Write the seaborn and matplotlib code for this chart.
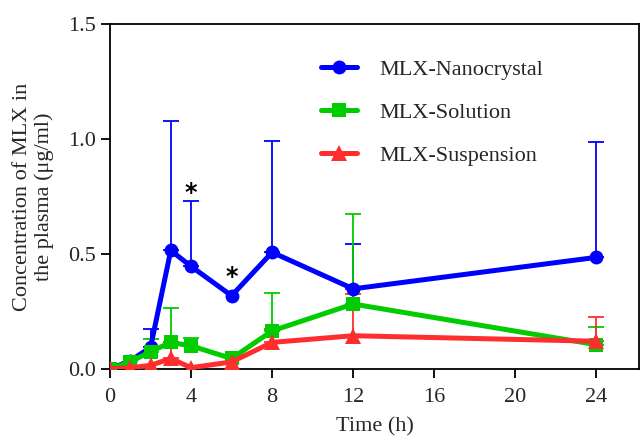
import numpy as np
import pandas as pd
import matplotlib
matplotlib.use("Agg")
import matplotlib.pyplot as plt
import seaborn as sns

# Sampling times (h)
time_h = [0, 1, 2, 3, 4, 6, 8, 12, 24]

# Mean plasma concentration (ug/ml)
nanocrystal = [0.0, 0.035, 0.093, 0.515, 0.446, 0.318, 0.507, 0.348, 0.485]
solution = [0.0, 0.03, 0.075, 0.115, 0.10, 0.045, 0.165, 0.282, 0.105]
suspension = [0.0, 0.005, 0.015, 0.045, 0.005, 0.03, 0.115, 0.144, 0.12]

# Upper standard deviation (NaN = no bar drawn)
nan = np.nan
nanocrystal_sd = [nan, nan, 0.08, 0.565, 0.282, nan, 0.483, 0.196, 0.502]
solution_sd = [nan, nan, 0.055, 0.15, 0.035, nan, 0.165, 0.393, 0.075]
suspension_sd = [nan, nan, nan, 0.07, nan, nan, 0.06, 0.182, 0.105]

series_names = ["MLX-Nanocrystal", "MLX-Solution", "MLX-Suspension"]
colors = ["#0000FF", "#00CC00", "#FF2E2E"]
markers = ["o", "s", "^"]
marker_sizes = [10, 9.5, 11]

# Significance marks: (time, y position)
star_times = [4, 6]
star_y = [0.765, 0.398]

sns.set_style("ticks")
plt.rcParams["font.family"] = ["Liberation Serif", "DejaVu Serif"]

df = pd.DataFrame({
    "time": time_h * 3,
    "conc": nanocrystal + solution + suspension,
    "group": sum([[n] * len(time_h) for n in series_names], []),
})

fig = plt.figure(figsize=(6.42, 4.37), dpi=100)
ax = fig.add_axes([0.1713, 0.156, 0.8240, 0.789])

means = [nanocrystal, solution, suspension]
sds = [nanocrystal_sd, solution_sd, suspension_sd]

# Upper-only error bars
for m, s, c in zip(means, sds, colors):
    lower = np.zeros(len(m))
    upper = np.array(s, dtype=float)
    mask = ~np.isnan(upper)
    ax.errorbar(np.array(time_h)[mask], np.array(m)[mask],
                yerr=[lower[mask], upper[mask]], fmt="none",
                ecolor=c, elinewidth=1.3, capsize=6, capthick=1.3, zorder=2)

sns.lineplot(data=df, x="time", y="conc", hue="group", style="group",
             palette=dict(zip(series_names, colors)),
             markers=dict(zip(series_names, markers)),
             dashes=False, linewidth=3.6, markersize=10,
             markeredgewidth=0, ax=ax, legend=False, zorder=3)

# Adjust marker size per series
for line, ms in zip(ax.get_lines()[-3:], marker_sizes):
    line.set_markersize(ms)

for t, y in zip(star_times, star_y):
    ax.text(t, y, "*", ha="center", va="center", fontsize=17,
            fontweight="bold", family="DejaVu Sans", color="black")

ax.set_xlim(0, 26.1)
ax.set_ylim(0, 1.5)
ax.set_xticks([0, 4, 8, 12, 16, 20, 24])
ax.set_yticks([0.0, 0.5, 1.0, 1.5])
ax.set_yticklabels(["0.0", "0.5", "1.0", "1.5"])

ax.set_xlabel("Time (h)", fontsize=16, labelpad=7.5)
ax.set_ylabel("Concentration of MLX in\nthe plasma (\u03bcg/ml)", fontsize=16,
              linespacing=1.15)
ax.yaxis.set_label_coords(-0.106, 0.5)

ax.tick_params(axis="both", labelsize=16, length=6.5, width=1.3,
               direction="out", color="black")
ax.tick_params(axis="x", pad=7)
for sp in ax.spines.values():
    sp.set_linewidth(1.3)
    sp.set_color("black")

handles = [
    plt.Line2D([], [], color=c, marker=mk, markersize=ms, linewidth=3.6,
               markeredgewidth=0)
    for c, mk, ms in zip(colors, markers, marker_sizes)
]
ax.legend(handles, series_names, loc="upper left",
          bbox_to_anchor=(0.398, 0.897), frameon=False, fontsize=16,
          handlelength=1.65, handletextpad=1.0, labelspacing=1.0,
          borderpad=0, borderaxespad=0)

fig.savefig("out.png", dpi=100)
